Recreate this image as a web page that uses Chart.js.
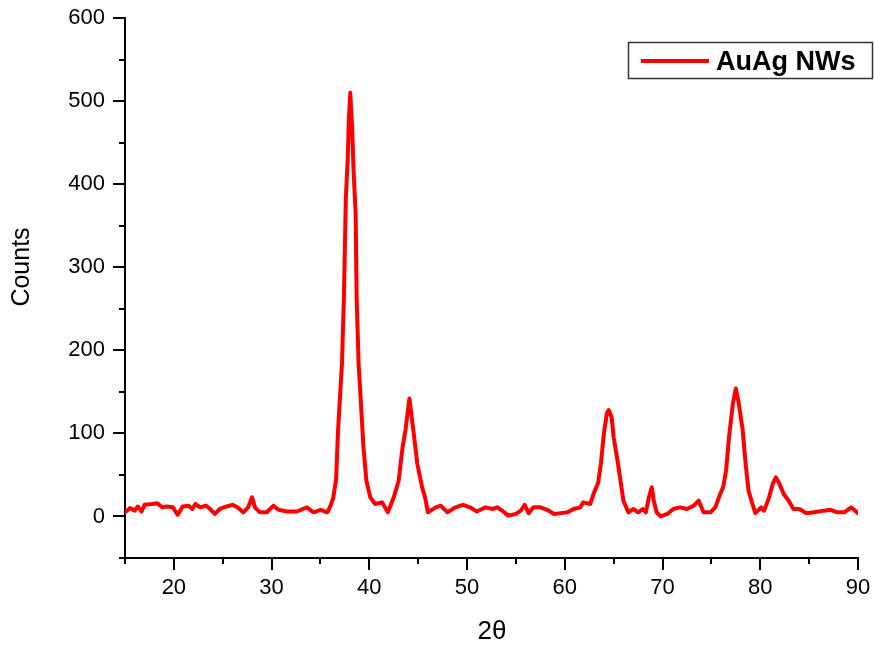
<!DOCTYPE html>
<html>
<head>
<meta charset="utf-8">
<title>AuAg NWs XRD</title>
<script src="https://cdn.jsdelivr.net/npm/chart.js@4.4.1/dist/chart.umd.min.js"></script>
<style>
    body { margin: 0; background: #fff; }
    #wrap { width: 874px; height: 649px; }
</style>
</head>
<body>
<div id="wrap"><canvas id="myChart" width="874" height="649"></canvas></div>
<script>
// 2θ positions
const twoTheta = [
    15.0, 15.5, 16.0, 16.3, 16.7, 17.0, 17.8, 18.3, 18.8, 19.3, 19.9, 20.4, 20.9, 21.5, 21.9,
    22.2, 22.7, 23.3, 23.7, 24.2, 24.7, 25.4, 26.0, 26.5, 27.1, 27.6, 28.0, 28.3, 28.8, 29.5,
    30.2, 30.7, 31.6, 32.6, 33.6, 34.3, 35.0, 35.7, 36.0, 36.3, 36.6, 36.8, 37.2, 37.4, 37.5,
    37.6, 37.8, 37.9, 38.05, 38.25, 38.4, 38.6, 38.7, 38.9, 39.2, 39.4, 39.7, 40.1, 40.6, 41.3,
    41.6, 41.9, 42.5, 43.0, 43.4, 43.7, 44.1, 44.5, 44.9, 45.4, 45.7, 46.0, 46.8, 47.3, 48.0,
    48.8, 49.6, 50.3, 51.0, 51.9, 52.6, 53.1, 53.7, 54.2, 55.0, 55.5, 55.9, 56.3, 56.8, 57.5,
    58.2, 58.9, 59.6, 60.3, 60.9, 61.6, 61.9, 62.6, 63.0, 63.4, 63.7, 64.0, 64.3, 64.5, 64.8,
    65.0, 65.4, 65.7, 66.0, 66.5, 67.0, 67.5, 68.0, 68.3, 68.6, 68.9, 69.1, 69.4, 69.8, 70.5,
    71.1, 71.8, 72.5, 73.2, 73.7, 74.2, 74.9, 75.4, 75.9, 76.2, 76.5, 76.8, 77.2, 77.5, 77.8,
    78.2, 78.5, 78.8, 79.2, 79.5, 80.1, 80.4, 80.9, 81.3, 81.6, 81.9, 82.4, 82.9, 83.4, 84.0,
    84.7, 85.5, 86.5, 87.2, 87.9, 88.6, 89.3, 90.0
];
// counts at each position
const counts = [
    5, 10, 7, 12, 6, 14, 15, 16, 11, 12, 11, 2, 12, 13, 9,
    15, 11, 13, 9, 3, 9, 12, 14, 11, 5, 11, 23, 11, 5, 5,
    13, 8, 6, 6, 11, 5, 8, 5, 12, 22, 45, 104, 184, 264, 324,
    384, 433, 477, 510, 465, 413, 365, 264, 184, 124, 83, 43, 23, 15, 17,
    11, 5, 23, 43, 83, 104, 142, 104, 64, 35, 23, 5, 11, 13, 5,
    11, 14, 11, 6, 11, 9, 11, 6, 1, 3, 7, 14, 4, 11, 11,
    8, 3, 4, 5, 9, 11, 17, 15, 29, 40, 64, 100, 124, 128, 119,
    95, 67, 43, 19, 5, 9, 5, 9, 5, 23, 35, 19, 5, 0, 3,
    9, 11, 9, 13, 19, 5, 5, 11, 27, 35, 55, 95, 136, 154, 136,
    104, 64, 31, 15, 4, 11, 7, 23, 40, 47, 41, 27, 19, 9, 9,
    4, 5, 7, 8, 5, 5, 11, 4
];
const seriesName = "AuAg NWs";
const xTitle = "2\u03b8";
const yTitle = "Counts";
const xMajorTicks = [20, 30, 40, 50, 60, 70, 80, 90];
const yMajorTicks = [0, 100, 200, 300, 400, 500, 600];

const FONT = '"Liberation Sans", Arial, sans-serif';

const points = twoTheta.map((t, i) => ({ x: t, y: counts[i] }));

// tick marks (outward, major long / minor short), titles and boxed legend
const decorPlugin = {
    id: "decor",
    afterDraw(chart) {
        const c = chart.ctx;
        const xs = chart.scales.x;
        const ys = chart.scales.y;
        const area = chart.chartArea;
        c.save();
        c.strokeStyle = "#000";
        c.lineWidth = 2;
        xs.ticks.forEach((t) => {
            const px = Math.round(xs.getPixelForValue(t.value));
            const len = xMajorTicks.includes(t.value) ? 12 : 6;
            c.beginPath();
            c.moveTo(px, area.bottom);
            c.lineTo(px, area.bottom + len);
            c.stroke();
        });
        ys.ticks.forEach((t) => {
            const py = Math.round(ys.getPixelForValue(t.value));
            const len = yMajorTicks.includes(t.value) ? 12 : 6;
            c.beginPath();
            c.moveTo(area.left, py);
            c.lineTo(area.left - len, py);
            c.stroke();
        });

        // axis titles
        c.fillStyle = "#000";
        c.textAlign = "center";
        c.textBaseline = "middle";
        c.font = "26px " + FONT;
        c.fillText(xTitle, 492, 632);
        c.save();
        c.translate(22, 267);
        c.rotate(-Math.PI / 2);
        c.font = "25px " + FONT;
        c.fillText(yTitle, 0, 0);
        c.restore();

        // legend
        const ds = chart.data.datasets[0];
        c.lineWidth = 1.5;
        c.strokeStyle = "#333";
        c.strokeRect(628.5, 42.5, 244, 36);
        c.strokeStyle = ds.borderColor;
        c.lineWidth = 4;
        c.beginPath();
        c.moveTo(641, 61);
        c.lineTo(709, 61);
        c.stroke();
        c.font = "bold 27px " + FONT;
        c.textAlign = "left";
        c.textBaseline = "alphabetic";
        c.fillStyle = "#000";
        c.fillText(ds.label, 716, 70);
        c.restore();
    },
};

const ctx = document.getElementById("myChart").getContext("2d");
const myChart = new Chart(ctx, {
    type: "line",
    data: {
        datasets: [
            {
                label: seriesName,
                data: points,
                borderColor: "#ff0000",
                borderWidth: 4,
                borderJoinStyle: "round",
                borderCapStyle: "round",
                pointRadius: 0,
                tension: 0,
                fill: false,
            },
        ],
    },
    options: {
        responsive: false,
        animation: false,
        layout: {
            padding: { top: 18, right: 16, left: 0, bottom: 0 },
        },
        scales: {
            x: {
                type: "linear",
                min: 15,
                max: 90,
                grid: { display: false, drawTicks: false },
                border: { display: true, color: "#000", width: 2 },
                ticks: {
                    stepSize: 5,
                    autoSkip: false,
                    maxRotation: 0,
                    padding: 17,
                    color: "#000",
                    font: { size: 22, family: FONT },
                    callback: (v) => (xMajorTicks.includes(v) ? v : ""),
                },
                afterFit: (scale) => {
                    scale.height = 91;
                    // no extra room for label overhang, layout padding handles it
                    scale.paddingLeft = 0;
                    scale.paddingRight = 0;
                },
            },
            y: {
                min: -50,
                max: 600,
                grid: { display: false, drawTicks: false },
                border: { display: true, color: "#000", width: 2 },
                ticks: {
                    stepSize: 50,
                    autoSkip: false,
                    padding: 20,
                    color: "#000",
                    font: { size: 22, family: FONT },
                    callback: (v) => (yMajorTicks.includes(v) ? v : ""),
                },
                afterFit: (scale) => {
                    scale.width = 125;
                    scale.paddingTop = 0;
                    scale.paddingBottom = 0;
                },
            },
        },
        plugins: {
            legend: { display: false },
            tooltip: { enabled: false },
        },
    },
    plugins: [decorPlugin],
});
</script>
</body>
</html>
